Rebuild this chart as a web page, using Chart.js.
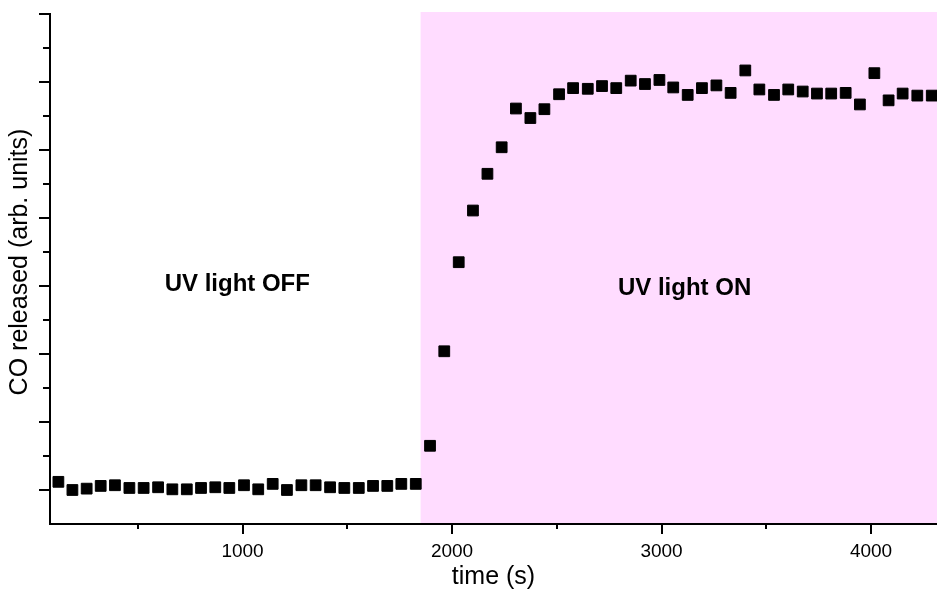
<!DOCTYPE html>
<html>
<head>
<meta charset="utf-8">
<title>CO release under UV light</title>
<script src="https://cdn.jsdelivr.net/npm/chart.js@4/dist/chart.umd.min.js"></script>
<style>
  html, body { margin: 0; padding: 0; background: #ffffff; overflow: hidden; }
  #wrap { width: 937px; height: 592px; }
  canvas { display: block; }
</style>
</head>
<body>
<div id="wrap"><canvas id="chart" width="937" height="592"></canvas></div>
<script>
// Measurement times (s)
const timeSec = [
  121, 188, 256, 323, 391, 460, 528, 597, 665, 734, 802, 870, 937,
  1007, 1075, 1144, 1212, 1281, 1349, 1418, 1486, 1555, 1623, 1691, 1758, 1827,
  1895, 1963, 2032, 2100, 2169, 2237, 2305, 2374, 2441, 2511, 2578, 2648,
  2716, 2784, 2853, 2921, 2990, 3056, 3125, 3193, 3262, 3330, 3400, 3467,
  3537, 3605, 3674, 3742, 3810, 3879, 3947, 4016, 4084, 4151, 4221, 4290
];

// CO released (arbitrary units)
const coReleased = [
  0.12, 0.00, 0.02, 0.06, 0.07, 0.03, 0.03, 0.04, 0.01, 0.01, 0.03, 0.04, 0.03,
  0.07, 0.01, 0.09, 0.00, 0.07, 0.07, 0.04, 0.03, 0.03, 0.06, 0.06, 0.09, 0.09,
  0.65, 2.04, 3.35, 4.11, 4.65, 5.04, 5.61, 5.47, 5.60, 5.82, 5.91, 5.90,
  5.94, 5.91, 6.02, 5.97, 6.03, 5.92, 5.81, 5.91, 5.95, 5.84, 6.17, 5.89,
  5.81, 5.89, 5.86, 5.83, 5.83, 5.84, 5.67, 6.13, 5.73, 5.83, 5.80, 5.80
];

// Axis ticks
const xMajorTicks = [1000, 2000, 3000, 4000];
const xMinorTicks = [500, 1500, 2500, 3500];
const yMajorTicks = [0, 1, 2, 3, 4, 5, 6, 7];
const yMinorTicks = [0.5, 1.5, 2.5, 3.5, 4.5, 5.5, 6.5];

// Axis titles
const xTitle = 'time (s)';
const yTitle = 'CO released (arb. units)';

// UV exposure period and panel annotations
const uvOnStart = 1850;
const panelLabels = ['UV light OFF', 'UV light ON'];
const panelLabelTimes = [975, 3110];
const panelLabelLevels = [3.03, 2.96];

const FONT = "'Liberation Sans', Arial, Helvetica, sans-serif";
Chart.defaults.color = '#000000';
Chart.defaults.font.family = FONT;

const points = timeSec.map((t, i) => ({ x: t, y: coReleased[i] }));

// Light-pink background for the UV-on interval
const uvShade = {
  id: 'uvShade',
  beforeDraw(chart) {
    const { ctx, chartArea, scales } = chart;
    const x0 = scales.x.getPixelForValue(uvOnStart);
    ctx.save();
    ctx.fillStyle = '#ffdcff';
    ctx.fillRect(x0, chartArea.top - 2, chartArea.right - x0, chartArea.bottom - chartArea.top + 2);
    ctx.restore();
  }
};

// Major / minor tick marks drawn outside the axes, plus the y-axis title
const tickMarks = {
  id: 'tickMarks',
  afterDraw(chart) {
    const { ctx, chartArea, scales } = chart;
    ctx.save();
    ctx.strokeStyle = '#000000';
    ctx.lineWidth = 2;
    ctx.beginPath();
    const xTick = (v, len) => {
      const px = Math.round(scales.x.getPixelForValue(v));
      ctx.moveTo(px, chartArea.bottom);
      ctx.lineTo(px, chartArea.bottom + len);
    };
    const yTick = (v, len) => {
      const py = Math.round(scales.y.getPixelForValue(v));
      ctx.moveTo(chartArea.left, py);
      ctx.lineTo(chartArea.left - len, py);
    };
    xMajorTicks.forEach(v => xTick(v, 10));
    xMinorTicks.forEach(v => xTick(v, 5));
    yMajorTicks.forEach(v => yTick(v, 11));
    yMinorTicks.forEach(v => yTick(v, 7));
    ctx.stroke();

    // rotated y-axis title
    ctx.fillStyle = '#000000';
    ctx.font = "25px " + FONT;
    ctx.textAlign = 'center';
    ctx.textBaseline = 'middle';
    ctx.translate(20, (chartArea.top + chartArea.bottom) / 2 - 7);
    ctx.rotate(-Math.PI / 2);
    ctx.fillText(yTitle, 0, 0);
    ctx.restore();
  }
};

// Bold labels naming each interval
const panelText = {
  id: 'panelText',
  afterDatasetsDraw(chart) {
    const { ctx, scales } = chart;
    ctx.save();
    ctx.fillStyle = '#000000';
    ctx.font = "bold 24px " + FONT;
    ctx.textAlign = 'center';
    ctx.textBaseline = 'middle';
    panelLabels.forEach((txt, i) => {
      ctx.fillText(txt,
        scales.x.getPixelForValue(panelLabelTimes[i]),
        scales.y.getPixelForValue(panelLabelLevels[i]));
    });
    ctx.restore();
  }
};

new Chart(document.getElementById('chart'), {
  type: 'scatter',
  data: {
    datasets: [{
      label: 'CO released',
      data: points,
      pointStyle: 'rect',
      pointRadius: 7.6,
      pointBorderWidth: 1,
      backgroundColor: '#000000',
      borderColor: '#000000'
    }]
  },
  options: {
    responsive: false,
    animation: false,
    events: [],
    layout: { autoPadding: false, padding: { top: 14, right: 0, bottom: 0, left: 0 } },
    plugins: {
      legend: { display: false },
      tooltip: { enabled: false }
    },
    scales: {
      x: {
        type: 'linear',
        min: 81,
        max: 4315,
        afterBuildTicks: (scale) => {
          scale.ticks = xMinorTicks.concat(xMajorTicks).sort((a, b) => a - b).map(v => ({ value: v }));
        },
        afterFit: (scale) => {
          scale.height = 68;
          scale.paddingLeft = 0;
          scale.paddingRight = 0;
        },
        grid: { display: false, drawTicks: false },
        border: { display: true, color: '#000000', width: 2 },
        ticks: {
          autoSkip: false,
          maxRotation: 0,
          padding: 16,
          font: { size: 19, family: FONT },
          callback: (v) => (xMajorTicks.includes(v) ? String(v) : '')
        },
        title: {
          display: true,
          text: xTitle,
          font: { size: 25, family: FONT },
          padding: { top: 0, bottom: 0 }
        }
      },
      y: {
        type: 'linear',
        min: -0.5,
        max: 7,
        afterFit: (scale) => {
          scale.width = 50;
          scale.paddingTop = 0;
          scale.paddingBottom = 0;
        },
        grid: { display: false, drawTicks: false },
        border: { display: true, color: '#000000', width: 2 },
        ticks: { display: false },
        title: { display: false }
      }
    }
  },
  plugins: [uvShade, tickMarks, panelText]
});
</script>
</body>
</html>
